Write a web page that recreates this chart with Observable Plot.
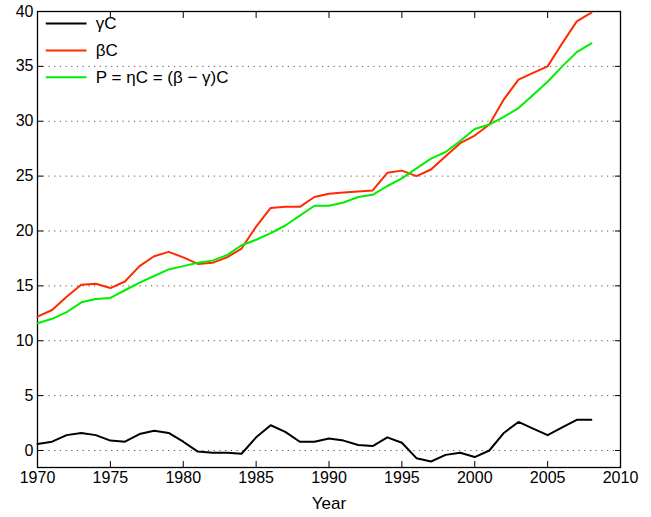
<!DOCTYPE html>
<html><head>
<script src="https://cdn.jsdelivr.net/npm/d3@7"></script>
<script src="https://cdn.jsdelivr.net/npm/@observablehq/plot@0.6"></script>
<style>body{margin:0;background:#fff}</style>
</head><body><div id="chart"></div>
<script>
const years = d3.range(1970, 2009)
const betaC = [12.2,12.8,14.0,15.1,15.2,14.8,15.4,16.8,17.7,18.1,17.6,17.0,17.1,17.6,18.4,20.4,22.1,22.2,22.2,23.1,23.4,23.5,23.6,23.7,25.3,25.5,25.0,25.6,26.8,28.0,28.7,29.7,32.0,33.8,34.4,35.0,37.1,39.1,39.9]
const gammaC = [0.6,0.8,1.4,1.6,1.4,0.9,0.8,1.5,1.8,1.6,0.8,-0.1,-0.2,-0.2,-0.3,1.2,2.3,1.7,0.8,0.8,1.1,0.9,0.5,0.4,1.2,0.7,-0.7,-1.0,-0.4,-0.2,-0.6,0.0,1.6,2.6,2.0,1.4,2.1,2.8,2.8]
const seriesNames = ["γC", "βC", "P = ηC = (β − γ)C"]
const colors = ["#000000", "#ff2a00", "#00ee00"]
const xTicks = d3.range(1970, 2011, 5)
const yTicks = d3.range(0, 41, 5)

let data = []
years.forEach((y, i) => {
  data.push({year: y, v: gammaC[i], s: seriesNames[0]})
  data.push({year: y, v: betaC[i], s: seriesNames[1]})
  data.push({year: y, v: +(betaC[i] - gammaC[i]).toFixed(2), s: seriesNames[2]})
})

// legend rows, placed in data units at top-left
const legend = seriesNames.map((s, i) => ({s, y: 38.9 - i * 2.45}))

const font = "Helvetica, Liberation Sans, Arial, sans-serif"
let chart = Plot.plot({
  width: 651, height: 517,
  marginLeft: 37, marginRight: 31, marginTop: 11, marginBottom: 50,
  style: {fontFamily: font, fontSize: "16px", color: "#000"},
  x: {domain: [1970, 2010], label: null},
  y: {domain: [-1.55, 40], label: null},
  color: {domain: seriesNames, range: colors},
  marks: [
    Plot.gridY(yTicks, {stroke: "#555", strokeOpacity: 1, strokeDasharray: "1.2,4.5"}),
    Plot.frame({stroke: "#000", strokeWidth: 1.3}),
    Plot.axisX({anchor: "bottom", tickSize: -6, tickPadding: 10, ticks: xTicks, tickFormat: d => String(d), fontSize: 16}),
    Plot.axisX({anchor: "top", tickSize: -6, ticks: xTicks, tickFormat: () => ""}),
    Plot.axisY({anchor: "left", tickSize: -6, tickPadding: 10, ticks: yTicks, tickFormat: d => String(d), fontSize: 16}),
    Plot.axisY({anchor: "right", tickSize: -6, ticks: yTicks, tickFormat: () => ""}),
    Plot.line(data, {x: "year", y: "v", stroke: "s", strokeWidth: 2}),
    Plot.ruleY(legend, {y: "y", x1: 1970.6, x2: 1973.4, stroke: "s", strokeWidth: 2}),
    Plot.text(legend, {y: "y", x: 1974.0, text: "s", textAnchor: "start", fontSize: 17}),
    Plot.text(["Year"], {frameAnchor: "bottom", dy: 41, fontSize: 17})
  ]
})
d3.select('#chart').append(() => chart)
</script>
</body></html>
